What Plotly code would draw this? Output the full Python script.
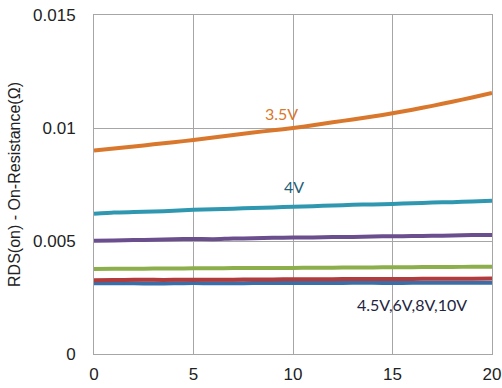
import plotly.graph_objects as go

vds = list(range(0, 21))

r_35 = [0.00900, 0.00909, 0.00918, 0.00928, 0.00937, 0.00947, 0.00958, 0.00969, 0.00980, 0.00990,
        0.01000, 0.01012, 0.01025, 0.01038, 0.01051, 0.01065, 0.01081, 0.01098, 0.01116, 0.01135, 0.01155]
r_4 = [0.00620, 0.00626, 0.00628, 0.00630, 0.00634, 0.00638, 0.00640, 0.00643, 0.00646, 0.00648,
       0.00652, 0.00654, 0.00657, 0.00660, 0.00662, 0.00664, 0.00667, 0.00670, 0.00672, 0.00675, 0.00678]
r_45 = [0.00501, 0.00502, 0.00504, 0.00505, 0.00508, 0.00509, 0.00508, 0.00511, 0.00512, 0.00514,
        0.00515, 0.00516, 0.00518, 0.00518, 0.00520, 0.00521, 0.00522, 0.00523, 0.00524, 0.00526, 0.00527]
r_6 = [0.00376, 0.00377, 0.00377, 0.00378, 0.00378, 0.00379, 0.00379, 0.00380, 0.00380, 0.00381,
       0.00381, 0.00382, 0.00382, 0.00383, 0.00383, 0.00384, 0.00384, 0.00385, 0.00385, 0.00386, 0.00386]
r_8 = [0.00326, 0.00327, 0.00328, 0.00328, 0.00328, 0.00329, 0.00329, 0.00329, 0.00330, 0.00330,
       0.00331, 0.00331, 0.00331, 0.00332, 0.00332, 0.00332, 0.00332, 0.00333, 0.00333, 0.00333, 0.00334]
r_10 = [0.00313, 0.00313, 0.00313, 0.00312, 0.00313, 0.00314, 0.00313, 0.00313, 0.00314, 0.00314,
        0.00314, 0.00314, 0.00314, 0.00315, 0.00315, 0.00314, 0.00315, 0.00315, 0.00315, 0.00315, 0.00315]

series = [
    ("10V", r_10, "#3A6EA8"),
    ("8V", r_8, "#B23B3B"),
    ("6V", r_6, "#8CAF4B"),
    ("4.5V", r_45, "#6B4E8E"),
    ("4V", r_4, "#2F98B0"),
    ("3.5V", r_35, "#D9782C"),
]

labels = [
    ("3.5V", 9.4, 0.01066, "#D9782C"),
    ("4V", 10.05, 0.00739, "#1F5F78"),
    ("4.5V,6V,8V,10V", 16.0, 0.00221, "#1E2540"),
]

fig = go.Figure()
for name, ys, col in series:
    fig.add_trace(go.Scatter(x=vds, y=ys, mode="lines", name=name,
                             line=dict(color=col, width=4, shape="spline", smoothing=0.6)))

for text, x, y, col in labels:
    fig.add_annotation(x=x, y=y, text=text, showarrow=False,
                       font=dict(family="Lato", size=16, color=col))

tick_font = dict(family="Liberation Sans, Arial", size=17, color="#222222")
axis_common = dict(showgrid=True, gridcolor="#A6A6A6", gridwidth=1,
                   showline=True, linecolor="#A6A6A6", linewidth=1, mirror=True,
                   zeroline=False, ticks="", automargin=False, tickfont=tick_font)

fig.update_layout(
    width=502, height=388,
    margin=dict(l=94, r=10, t=15, b=34),
    paper_bgcolor="white", plot_bgcolor="white",
    showlegend=False,
    xaxis=dict(range=[0, 20], tickvals=[0, 5, 10, 15, 20], ticktext=["0", "5", "10", "15", "20"],
               ticklabelstandoff=5, **axis_common),
    yaxis=dict(range=[0, 0.015], tickvals=[0, 0.005, 0.01, 0.015],
               ticktext=["0", "0.005", "0.01", "0.015"], ticklabelstandoff=14,
               title=dict(text="RDS(on) - On-Resistance(Ω)", standoff=8,
                          font=dict(family="Liberation Sans, Arial", size=16, color="#222222")),
               **axis_common),
)

fig.write_html("out.html")
